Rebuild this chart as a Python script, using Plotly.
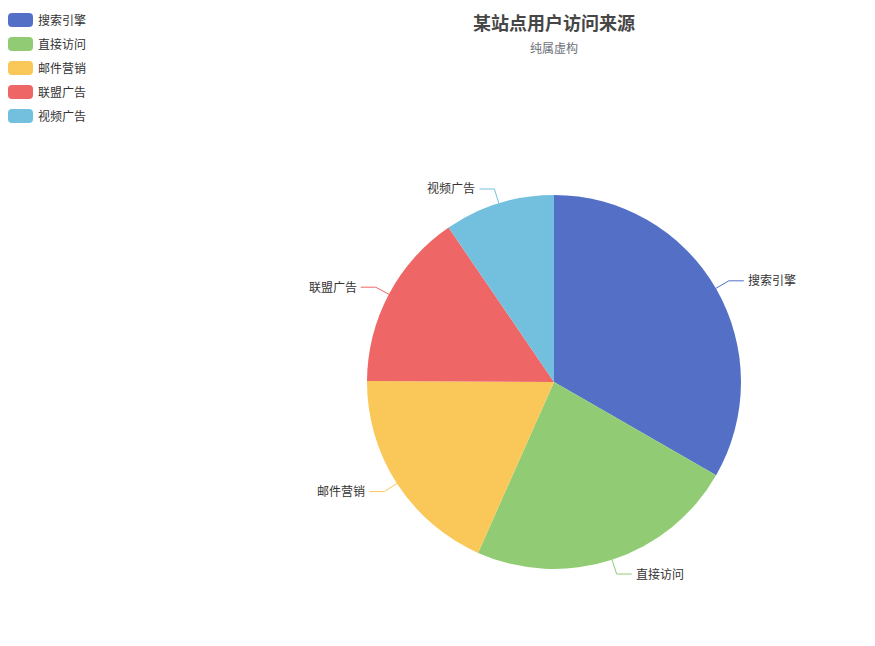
import plotly.graph_objects as go
import numpy as np

# data
labels = ["搜索引擎", "直接访问", "邮件营销", "联盟广告", "视频广告"]
values = [1048, 735, 580, 484, 300]
colors = ["#5470c6", "#91cc75", "#fac858", "#ee6666", "#73c0de"]

W, H = 875, 646
OFF = 8                     # page body margin
cx, cy, r = 554, 382, 187   # pie centre / radius in page pixels


def px(x, y):
    """page pixel -> paper coords"""
    return (x - OFF) / W, 1 - (y - OFF) / H


fig = go.Figure()
dx0, dy0 = px(cx - r, cy + r)
dx1, dy1 = px(cx + r, cy - r)
fig.add_trace(go.Pie(
    labels=labels,
    values=values,
    sort=False,
    direction="clockwise",
    rotation=0,
    textinfo="none",
    hoverinfo="label+value+percent",
    marker=dict(colors=colors, line=dict(width=0)),
    domain=dict(x=[dx0, dx1], y=[dy0, dy1]),
    showlegend=False,
))

# leader lines + outside labels
shapes = []
annotations = []
total = sum(values)
cum = 0
for lab, val, col in zip(labels, values, colors):
    mid = (cum + val / 2) / total * 2 * np.pi
    cum += val
    sx, sy = cx + r * np.sin(mid), cy - r * np.cos(mid)
    ex, ey = cx + (r + 15) * np.sin(mid), cy - (r + 15) * np.cos(mid)
    side = 1 if np.sin(mid) >= 0 else -1
    hx = ex + side * 15
    x0, y0 = px(sx, sy)
    x1, y1 = px(ex, ey)
    x2, y2 = px(hx, ey)
    shapes.append(dict(type="path", xref="paper", yref="paper",
                       path=f"M {x0} {y0} L {x1} {y1} L {x2} {y2}",
                       line=dict(color=col, width=1)))
    tx, ty = px(hx + side * 2, ey - 1)
    annotations.append(dict(x=tx, y=ty, xref="paper", yref="paper", text=lab, showarrow=False,
                            xanchor="left" if side > 0 else "right", yanchor="middle",
                            font=dict(size=12, color="#333333")))

# legend drawn by hand (rounded swatches)
for i, (lab, col) in enumerate(zip(labels, colors)):
    ly = 20 + 24 * i
    x0, y0 = px(8, ly - 7)
    x1, y1 = px(33, ly + 7)
    rx, ry = 4 / W, 4 / H
    path = (f"M {x0 + rx} {y0} L {x1 - rx} {y0} Q {x1} {y0} {x1} {y0 - ry} "
            f"L {x1} {y1 + ry} Q {x1} {y1} {x1 - rx} {y1} L {x0 + rx} {y1} "
            f"Q {x0} {y1} {x0} {y1 + ry} L {x0} {y0 - ry} Q {x0} {y0} {x0 + rx} {y0} Z")
    shapes.append(dict(type="path", xref="paper", yref="paper", path=path,
                       fillcolor=col, line=dict(width=0)))
    tx, ty = px(36, ly)
    annotations.append(dict(x=tx, y=ty, xref="paper", yref="paper", text=lab, showarrow=False,
                            xanchor="left", yanchor="middle",
                            font=dict(size=12, color="#333333")))

# title + subtitle
tx, ty = px(cx, 22)
annotations.append(dict(x=tx, y=ty, xref="paper", yref="paper", text="<b>某站点用户访问来源</b>",
                        showarrow=False, xanchor="center", yanchor="middle",
                        font=dict(size=18, color="#464646")))
tx, ty = px(cx, 47)
annotations.append(dict(x=tx, y=ty, xref="paper", yref="paper", text="纯属虚构",
                        showarrow=False, xanchor="center", yanchor="middle",
                        font=dict(size=12, color="#6e7079")))

fig.update_layout(
    width=W, height=H,
    margin=dict(l=0, r=0, t=0, b=0),
    paper_bgcolor="white",
    plot_bgcolor="white",
    font=dict(family="Noto Sans CJK SC, sans-serif"),
    shapes=shapes,
    annotations=annotations,
    showlegend=False,
)

fig.write_html("out.html")
